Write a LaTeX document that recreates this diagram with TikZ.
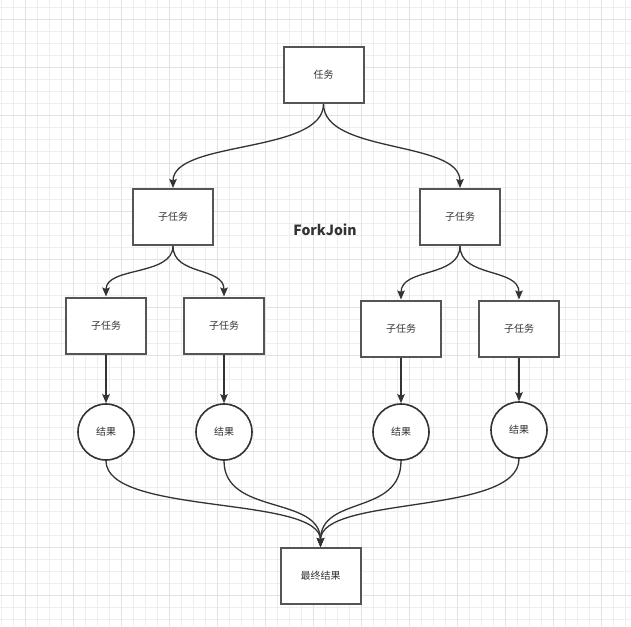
\documentclass[tikz,border=0pt]{standalone}
\usepackage{fontspec}
\setmainfont{Noto Sans CJK SC}
\usetikzlibrary{arrows.meta}
\definecolor{boxgray}{HTML}{555555}
\definecolor{edgegray}{HTML}{333333}
\definecolor{txt}{HTML}{333333}
\definecolor{gridminor}{HTML}{EEEEEE}
\definecolor{gridmajor}{HTML}{E2E2E2}
\begin{document}
\begin{tikzpicture}[x=1pt,y=-1pt,
  box/.style={draw=boxgray,line width=2pt,fill=white,minimum width=80pt,minimum height=56pt,inner sep=0pt,font=\fontsize{10}{12}\selectfont,text=txt},
  res/.style={circle,draw=edgegray,line width=1.6pt,fill=white,minimum size=56pt,inner sep=0pt,font=\fontsize{10}{12}\selectfont,text=txt},
  edge/.style={draw=edgegray,line width=1.3pt,-{Stealth[length=9pt,width=7.5pt,inset=1.5pt]}},
  joinedge/.style={draw=edgegray,line width=1.3pt}]
\useasboundingbox (0,0) rectangle (631,626);
\fill[white] (0,0) rectangle (631,626);
% grid
\foreach \i in {0,...,52} {
  \draw[gridminor,line width=0.8pt] ({1.3+12*\i},0) -- ({1.3+12*\i},626);
}
\foreach \i in {0,...,52} {
  \draw[gridminor,line width=0.8pt] (0,{7.3+12*\i}) -- (631,{7.3+12*\i});
}
\foreach \i in {0,...,13} {
  \draw[gridmajor,line width=0.9pt] ({25.3+48*\i},0) -- ({25.3+48*\i},626);
  \draw[gridmajor,line width=0.9pt] (0,{19.3+48*\i}) -- (631,{19.3+48*\i});
}
% nodes
\node[box] (t) at (323.5,75) {任务};
\node[box] (a) at (173,217) {子任务};
\node[box] (b) at (460,217) {子任务};
\node[box] (a1) at (106,325.5) {子任务};
\node[box] (a2) at (224,325.5) {子任务};
\node[box] (b1) at (401,328.5) {子任务};
\node[box] (b2) at (519,328.5) {子任务};
\node[res] (r1) at (106,432) {结果};
\node[res] (r2) at (224,432) {结果};
\node[res] (r3) at (401,432) {结果};
\node[res] (r4) at (519,430) {结果};
\node[box] (f) at (320.5,576) {最终结果};
\node[font=\fontsize{14}{16}\selectfont\bfseries,text=txt] (fj) at (325,230) {ForkJoin};
% edges
\draw[edge] (t.south) .. controls +(0,50) and +(0,-48) .. (a.north);
\draw[edge] (t.south) .. controls +(0,50) and +(0,-48) .. (b.north);
\draw[edge] (a.south) .. controls +(0,30) and +(0,-30) .. (a1.north);
\draw[edge] (a.south) .. controls +(0,30) and +(0,-30) .. (a2.north);
\draw[edge] (b.south) .. controls +(0,32) and +(0,-32) .. (b1.north);
\draw[edge] (b.south) .. controls +(0,32) and +(0,-32) .. (b2.north);
\draw[edge] (a1.south) -- (r1.north);
\draw[edge] (a2.south) -- (r2.north);
\draw[edge] (b1.south) -- (r3.north);
\draw[edge] (b2.south) -- (r4.north);
\draw[edge] (r1.south) .. controls +(0,55) and +(0,-52) .. (f.north);
\draw[edge] (r2.south) .. controls +(0,55) and +(0,-52) .. (f.north);
\draw[edge] (r3.south) .. controls +(0,55) and +(0,-52) .. (f.north);
\draw[edge] (r4.south) .. controls +(0,57) and +(0,-52) .. (f.north);
\end{tikzpicture}
\end{document}
